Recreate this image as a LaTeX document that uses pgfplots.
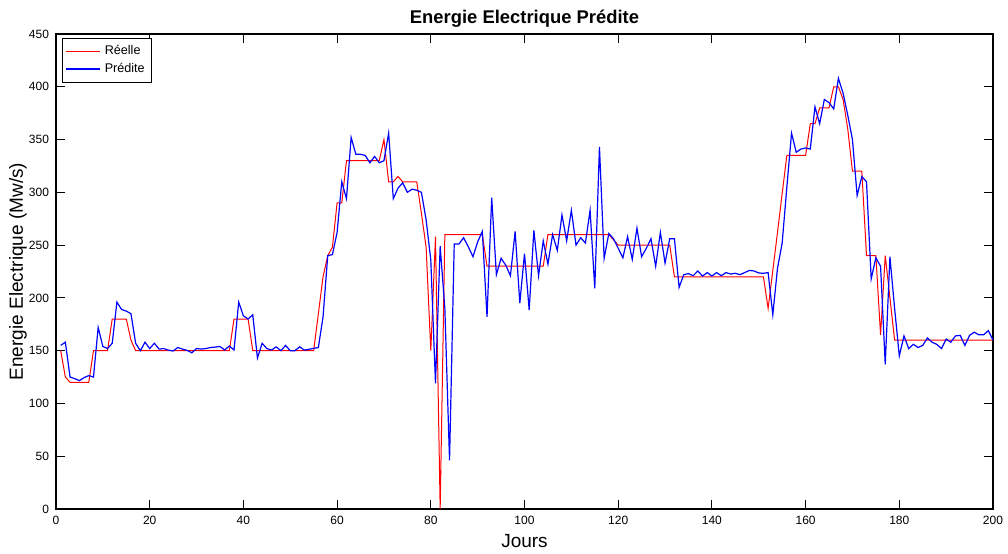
\documentclass[border=0pt]{standalone}
\usepackage{fontspec}
\setmainfont{Liberation Sans}
\usepackage{pgfplots}
\pgfplotsset{compat=1.18}
\begin{document}
\begin{tikzpicture}
\begin{axis}[
  at={(0,0)}, anchor=south west,
  scale only axis, width=468.5pt, height=237.5pt,
  xmin=0, xmax=200, ymin=0, ymax=450,
  xtick={0,20,...,200}, ytick={0,50,...,450},
  tick align=inside, tick pos=both,
  major tick length=4.5pt,
  tick style={black, line width=0.5pt},
  axis line style={line width=0.7pt},
  ticklabel style={font=\fontsize{6}{7}\selectfont},
  /pgf/number format/assume math mode=true,
  title={Energie Electrique Prédite},
  title style={font=\bfseries\fontsize{9.2}{11}\selectfont, at={(axis description cs:0.5,1)}, anchor=south, yshift=-6pt},
  xlabel={Jours},
  ylabel={Energie Electrique (Mw/s)},
  xlabel style={font=\fontsize{9.5}{11}\selectfont, at={(axis description cs:0.5,-0.038)}, anchor=north},
  ylabel style={font=\fontsize{9.5}{11}\selectfont, at={(axis description cs:-0.0235,0.5)}, anchor=south},
  legend style={at={(axis description cs:0.0064,0.9916)}, anchor=north west, font=\fontsize{6.3}{7.3}\selectfont, draw=black, line width=0.6pt, inner sep=1.5pt, row sep=-1.5pt},
  legend image post style={line width=0.55pt},
  legend cell align=left,
]
\addplot[red, line width=0.5pt] coordinates {
(1,150)(2,125)(3,120)(7,120)(8,150)(11,150)(12,180)(15,180)(16,160)(17,150)(37,150)(38,180)(41,180)(42,150)(55,150)(56,185)(57,220)(58,240)(59,248)(60,290)(61,290)(62,330)(69,330)(70,350)(71,310)(72,310)(73,315)(74,310)(77,310)(78,280)(79,248)(80,150)(81,258)(82,0)(83,260)(91,260)(92,230)(104,230)(105,260)(118,260)(119,255)(120,250)(131,250)(132,220)(151,220)(152,190)(153,226)(154,262)(155,299)(156,335)(160,335)(161,365)(162,365)(163,380)(165,380)(166,400)(167,400)(168,388)(169,360)(170,320)(172,320)(173,240)(175,240)(176,165)(177,240)(178,200)(179,160)(200,160)
};
\addlegendentry{Réelle}
\addplot[blue, line width=0.6pt] coordinates {
(1,155)(2,158)(3,125)(4,123.5)(5,121.6)(6,124.5)(7,126.4)(8,125)(9,172)(10,154)
(11,152)(12,157)(13,196)(14,189)(15,187.5)(16,185)(17,157)(18,150)(19,158)(20,152)
(21,157)(22,151.5)(23,152)(24,150.5)(25,149.7)(26,153)(27,151.5)(28,150.3)(29,148)(30,152)
(31,151.5)(32,152)(33,153)(34,153.4)(35,154)(36,150.6)(37,154.4)(38,150.6)(39,196)(40,183)
(41,180)(42,184)(43,143)(44,157)(45,152)(46,150.6)(47,153.6)(48,150)(49,155)(50,150)
(51,150)(52,153.6)(53,150.6)(54,151.3)(55,152.2)(56,153)(57,182)(58,240)(59,241)(60,262)
(61,310)(62,294)(63,352)(64,336)(65,336)(66,335)(67,328)(68,334)(69,328)(70,330)
(71,356)(72,294)(73,304)(74,309)(75,300)(76,303)(77,302)(78,300)(79,274)(80,236)
(81,119)(82,249)(83,190)(84,46)(85,251)(86,251)(87,257)(88,248.5)(89,239)(90,253)
(91,263)(92,182)(93,295)(94,222)(95,237.5)(96,231)(97,221)(98,263)(99,195)(100,242)
(101,188.5)(102,264)(103,221)(104,254)(105,232)(106,260)(107,245)(108,278.5)(109,254)(110,283)
(111,250)(112,257)(113,252)(114,283)(115,209)(116,343)(117,237.5)(118,261)(119,256)(120,247)
(121,238)(122,258)(123,236.5)(124,266)(125,239)(126,247)(127,256)(128,230)(129,262)(130,233)
(131,256)(132,256)(133,210)(134,222)(135,223)(136,221)(137,225.5)(138,220.7)(139,224)(140,220.7)
(141,224)(142,221)(143,224)(144,222.6)(145,223.3)(146,222)(147,224)(148,226)(149,225.5)(150,223.6)
(151,223.3)(152,224)(153,184)(154,228)(155,252)(156,305)(157,356)(158,338)(159,341)(160,342)
(161,341)(162,381)(163,365)(164,388)(165,385)(166,379)(167,408)(168,394)(169,373)(170,350)
(171,297)(172,315)(173,310)(174,218)(175,238)(176,230)(177,137)(178,239)(179,190)(180,145)
(181,164)(182,152)(183,156)(184,153)(185,155)(186,162)(187,158)(188,156)(189,152)(190,161)
(191,158)(192,164)(193,164.5)(194,155)(195,164.5)(196,167.5)(197,165)(198,165)(199,169)(200,160)
};
\addlegendentry{Prédite}
\end{axis}
\pgfresetboundingbox
\path[use as bounding box] (-28pt,-22pt) rectangle (476pt,254.5pt);
\end{tikzpicture}
\end{document}
